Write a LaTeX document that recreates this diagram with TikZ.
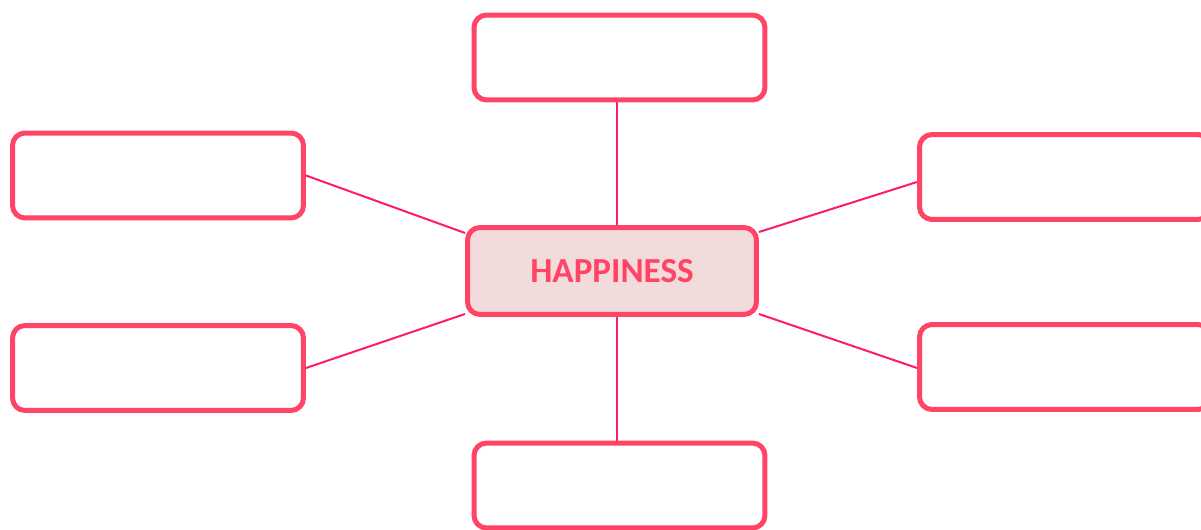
\documentclass[tikz,border=0pt]{standalone}
\usepackage{fontspec}
\setmainfont{Carlito}
\usetikzlibrary{calc,backgrounds}
\definecolor{boxred}{HTML}{FF4466}
\definecolor{linkred}{HTML}{FF1A6E}
\definecolor{centerfill}{HTML}{F2DCDB}
\tikzset{
  leafbox/.style={draw=boxred, line width=0.1cm, rounded corners=0.25cm, fill=white,
    minimum width=5.82cm, minimum height=1.7cm, inner sep=0pt},
  hubbox/.style={leafbox, fill=centerfill, minimum width=5.78cm, minimum height=1.74cm,
    text=boxred, font=\fontsize{20}{24}\selectfont\bfseries},
  link/.style={draw=linkred, line width=0.04cm}
}
\begin{document}
\begin{tikzpicture}[x=0.02cm,y=-0.02cm]
\useasboundingbox (0,0) rectangle (1201,530);
\node[hubbox] (c) at (612,271) {HAPPINESS};
\node[leafbox] (t) at (619.5,57.5) {};
\node[leafbox] (b) at (619.5,485.5) {};
\node[leafbox] (lt) at (158,175.5) {};
\node[leafbox] (lb) at (158,368) {};
\node[leafbox] (rt) at (1065,177) {};
\node[leafbox] (rb) at (1065,367) {};
\begin{scope}[on background layer]
\fill[white] (0,0) rectangle (1201,530);
\draw[link] ($(t.south)+(-2.5,0)$) -- ($(t.south |- c.north)+(-2.5,0)$);
\draw[link] ($(b.north)+(-2.5,0)$) -- ($(b.north |- c.south)+(-2.5,0)$);
\draw[link] (lt.east) -- ($(c.north west)+(0,8)$);
\draw[link] ($(rt.west)+(0,5)$) -- ($(c.north east)+(0,7)$);
\draw[link] (lb.east) -- ($(c.south west)+(0,-3)$);
\draw[link] ($(rb.west)+(0,1)$) -- ($(c.south east)+(0,-3)$);
\end{scope}
\end{tikzpicture}
\end{document}
